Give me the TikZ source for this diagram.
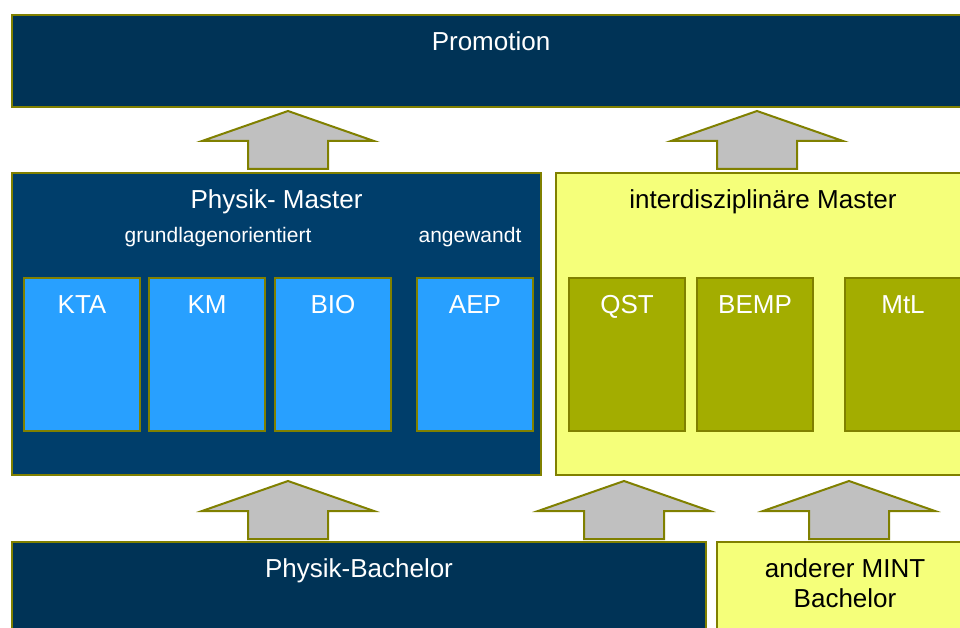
\documentclass[tikz,border=0pt]{standalone}
\usepackage{fontspec}
\setmainfont{Liberation Sans}
\usetikzlibrary{positioning,calc}
\definecolor{darknavy}{RGB}{0,51,86}
\definecolor{midnavy}{RGB}{0,62,107}
\definecolor{skyblue}{RGB}{40,160,255}
\definecolor{paleyellow}{RGB}{245,255,122}
\definecolor{olivefill}{RGB}{163,173,0}
\definecolor{oliveline}{RGB}{128,128,0}
\definecolor{arrowgray}{RGB}{192,192,192}
\begin{document}
\begin{tikzpicture}[x=1pt,y=-1pt,
    box/.style={draw=oliveline, line width=2pt, inner sep=0pt, outer sep=0pt, anchor=north west},
    sub/.style={box, minimum width=116pt, minimum height=153pt},
    big/.style={font=\fontsize{26}{30}\selectfont},
    small/.style={font=\fontsize{21}{25}\selectfont},
    upblock/.style={fill=arrowgray, draw=oliveline, line width=2pt}]
    \useasboundingbox (0,0) rectangle (960,628);
    \clip (0,0) rectangle (960,628);
    % top
    \node[box, fill=darknavy, minimum width=958pt, minimum height=92pt,
      label={[big, text=white, anchor=base, yshift=-36pt]north:Promotion}] (promo) at (12,15) {};
    % master
    \node[box, fill=midnavy, minimum width=529pt, minimum height=302pt,
      label={[big, text=white, anchor=base, yshift=-36pt]north:Physik- Master}] (pmaster) at (12,173) {};
    \node[box, fill=paleyellow, minimum width=414pt, minimum height=302pt,
      label={[big, anchor=base, yshift=-36pt]north:interdisziplinäre Master}] (imaster) at (556,173) {};
    \node[small, text=white, anchor=base] (grund) at (218,243) {grundlagenorientiert};
    \node[small, text=white, anchor=base] (angew) at (470,243) {angewandt};
    % physik subjects
    \node[sub, fill=skyblue, label={[big, text=white, anchor=base, yshift=-35pt]north:KTA}] (kta) at (24,278) {};
    \node[sub, fill=skyblue, right=9pt of kta, label={[big, text=white, anchor=base, yshift=-35pt]north:KM}] (km) {};
    \node[sub, fill=skyblue, right=10pt of km, label={[big, text=white, anchor=base, yshift=-35pt]north:BIO}] (bio) {};
    \node[sub, fill=skyblue, right=26pt of bio, label={[big, text=white, anchor=base, yshift=-35pt]north:AEP}] (aep) {};
    % interdisciplinary subjects
    \node[sub, fill=olivefill, label={[big, text=white, anchor=base, yshift=-35pt]north:QST}] (qst) at (569,278) {};
    \node[sub, fill=olivefill, right=12pt of qst, label={[big, text=white, anchor=base, yshift=-35pt]north:BEMP}] (bemp) {};
    \node[sub, fill=olivefill, right=32pt of bemp, label={[big, text=white, anchor=base, yshift=-35pt]north:MtL}] (mtl) {};
    % bachelor
    \node[box, fill=darknavy, minimum width=694pt, minimum height=100pt,
      label={[big, text=white, anchor=base, yshift=-35pt]north:Physik-Bachelor}] (pbach) at (12,542) {};
    \node[box, fill=paleyellow, minimum width=256pt, minimum height=100pt] (mint) at (717,542) {};
    \node[big, align=center, anchor=base] (mintt) at (845,607) {anderer MINT\\Bachelor};
    % block arrows
    \foreach \n/\x/\y in {upa/288/169, upb/757/169, upc/288/539, upd/624/539, upe/849/539}{
      \coordinate (\n) at (\x,\y);
      \draw[upblock] (\n) ++(-40,0) -- ++(0,-28) -- ++(-46,0) -- ++(86,-30)
        -- ++(86,30) -- ++(-46,0) -- ++(0,28) -- cycle;
    }
\end{tikzpicture}
\end{document}
